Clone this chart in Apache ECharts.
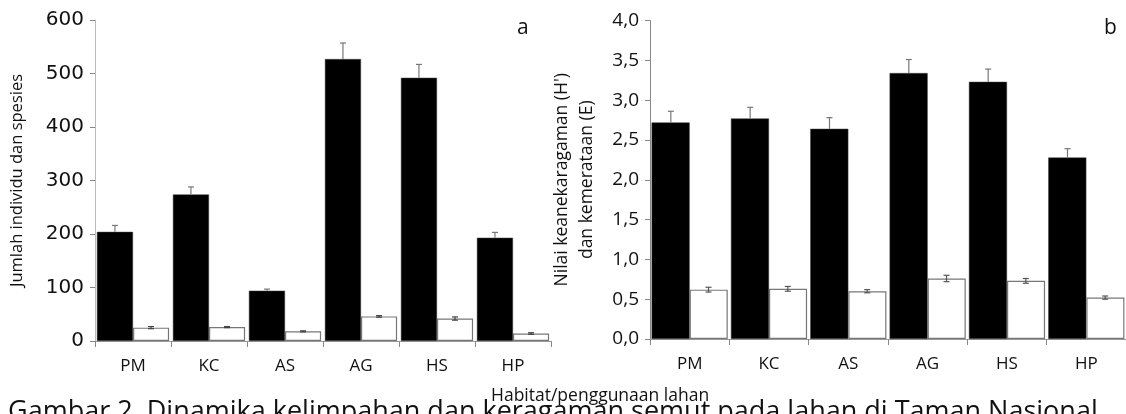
<!DOCTYPE html>
<html lang="id" style="height: 100%">
<head>
    <meta charset="UTF-8">
    <title>Jumlah individu, spesies, keanekaragaman dan kemerataan</title>
    <script src="https://cdn.jsdelivr.net/npm/echarts@6/dist/echarts.min.js"></script>
</head>
<body style="height: 100%; margin: 0; background: #fff">
    <div id="main" style="width: 1126px; height: 414px"></div>
    <script>
        // kategori habitat / penggunaan lahan
        var categories = ['PM', 'KC', 'AS', 'AG', 'HS', 'HP'];

        // panel a
        var jumlahIndividu = [204, 274, 94, 527, 492, 193];
        var jumlahIndividuErr = [12, 14, 3, 30, 25, 10];
        var jumlahSpesies = [25, 26, 18, 46, 42, 14];
        var jumlahSpesiesErr = [2, 1, 1, 1.5, 3, 1.5];
        var ticksA = [0, 100, 200, 300, 400, 500, 600];

        // panel b
        var keanekaragaman = [2.72, 2.77, 2.64, 3.34, 3.23, 2.28];
        var keanekaragamanErr = [0.14, 0.14, 0.14, 0.17, 0.16, 0.11];
        var kemerataan = [0.62, 0.63, 0.60, 0.76, 0.73, 0.52];
        var kemerataanErr = [0.03, 0.03, 0.02, 0.04, 0.03, 0.02];
        var ticksB = ['0,0', '0,5', '1,0', '1,5', '2,0', '2,5', '3,0', '3,5', '4,0'];

        var myChart = echarts.init(document.getElementById('main'));

        // error bar: garis ke atas (bar hitam) atau dua arah (bar putih)
        function errBar(side, both, color) {
            return function (params, api) {
                var i = api.value(0), v = api.value(1), e = api.value(2);
                var c = api.coord([i, v]);
                var top = api.coord([i, v + e]);
                var bot = api.coord([i, v - e]);
                var w = api.size([1, 0])[0];
                var x = c[0] + side * w * 0.2375;
                var y0 = both ? bot[1] : c[1];
                var st = { stroke: color, lineWidth: 1.2 };
                var kids = [
                    { type: 'line', shape: { x1: x, y1: y0, x2: x, y2: top[1] }, style: st },
                    { type: 'line', shape: { x1: x - 3, y1: top[1], x2: x + 3, y2: top[1] }, style: st }
                ];
                if (both) {
                    kids.push({ type: 'line', shape: { x1: x - 3, y1: bot[1], x2: x + 3, y2: bot[1] }, style: st });
                }
                return { type: 'group', children: kids };
            };
        }

        function errData(vals, errs) {
            return vals.map(function (v, i) { return [i, v, errs[i]]; });
        }

        var catAxis = function (gi) {
            return {
                type: 'category',
                gridIndex: gi,
                data: categories,
                axisLine: { lineStyle: { color: '#999', width: 1 } },
                axisTick: { show: true, length: 6, lineStyle: { color: '#888' } },
                axisLabel: { color: '#111', fontSize: 17, fontFamily: 'Open Sans', margin: 17 }
            };
        };

        var option = {
            animation: false,
            grid: [
                { left: 95, top: 20, width: 456, height: 321 },
                { left: 650, top: 20.5, width: 482, height: 318.5 }
            ],
            xAxis: [catAxis(0), catAxis(1)],
            yAxis: [
                {
                    type: 'value', gridIndex: 0, min: 0, max: 600, interval: 100,
                    name: 'Jumlah individu dan spesies',
                    nameLocation: 'middle', nameGap: 69,
                    nameTextStyle: { fontSize: 16.5, fontFamily: 'Open Sans', color: '#111' },
                    axisLine: { show: true, lineStyle: { color: '#bbb' } },
                    axisTick: { show: true, length: 5, lineStyle: { color: '#888' } },
                    splitLine: { show: false },
                    axisLabel: {
                        color: '#111', fontSize: 20, fontFamily: 'DejaVu Sans', margin: 11,
                        formatter: function (v) { return ticksA[Math.round(v / 100)]; }
                    }
                },
                {
                    type: 'value', gridIndex: 1, min: 0, max: 4, interval: 0.5,
                    name: "Nilai keanekaragaman (H')\ndan kemerataan (E)",
                    nameLocation: 'middle', nameGap: 50,
                    nameTextStyle: { fontSize: 17.5, fontFamily: 'Open Sans', color: '#111', lineHeight: 25, align: 'center' },
                    axisLine: { show: true, lineStyle: { color: '#888' } },
                    axisTick: { show: true, length: 5, lineStyle: { color: '#888' } },
                    splitLine: { show: false },
                    axisLabel: {
                        color: '#111', fontSize: 19, fontFamily: 'Open Sans', margin: 11,
                        formatter: function (v) { return ticksB[Math.round(v * 2)]; }
                    }
                }
            ],
            graphic: [
                { type: 'text', x: 8, y: 399, style: { text: 'Gambar 2. Dinamika kelimpahan dan keragaman semut pada lahan di Taman Nasional', fontSize: 27, fontFamily: 'Open Sans', fill: '#111', verticalAlign: 'top' } },
                { type: 'text', left: 517, top: 18, style: { text: 'a', fontSize: 21, fontFamily: 'Open Sans', fill: '#111' } },
                { type: 'text', left: 1104, top: 18, style: { text: 'b', fontSize: 21, fontFamily: 'Open Sans', fill: '#111' } },
                { type: 'text', left: 491, top: 387, style: { text: 'Habitat/penggunaan lahan', fontSize: 17.5, fontFamily: 'Open Sans', fill: '#111' } }
            ],
            series: [
                {
                    type: 'bar', xAxisIndex: 0, yAxisIndex: 0, data: jumlahIndividu,
                    barGap: '0%', barCategoryGap: '5%',
                    itemStyle: { color: '#000', borderColor: '#444', borderWidth: 0.5 }
                },
                {
                    type: 'bar', xAxisIndex: 0, yAxisIndex: 0, data: jumlahSpesies,
                    barGap: '0%', barCategoryGap: '5%',
                    itemStyle: { color: '#fff', borderColor: '#777', borderWidth: 1.2 }
                },
                {
                    type: 'bar', xAxisIndex: 1, yAxisIndex: 1, data: keanekaragaman,
                    barGap: '0%', barCategoryGap: '4%',
                    itemStyle: { color: '#000', borderColor: '#444', borderWidth: 0.5 }
                },
                {
                    type: 'bar', xAxisIndex: 1, yAxisIndex: 1, data: kemerataan,
                    barGap: '0%', barCategoryGap: '4%',
                    itemStyle: { color: '#fff', borderColor: '#777', borderWidth: 1.2 }
                },
                {
                    type: 'custom', xAxisIndex: 0, yAxisIndex: 0, z: 5,
                    renderItem: errBar(-1, false, '#777'), data: errData(jumlahIndividu, jumlahIndividuErr)
                },
                {
                    type: 'custom', xAxisIndex: 0, yAxisIndex: 0, z: 5,
                    renderItem: errBar(1, true, '#444'), data: errData(jumlahSpesies, jumlahSpesiesErr)
                },
                {
                    type: 'custom', xAxisIndex: 1, yAxisIndex: 1, z: 5,
                    renderItem: errBar(-1, false, '#777'), data: errData(keanekaragaman, keanekaragamanErr)
                },
                {
                    type: 'custom', xAxisIndex: 1, yAxisIndex: 1, z: 5,
                    renderItem: errBar(1, true, '#555'), data: errData(kemerataan, kemerataanErr)
                }
            ]
        };

        myChart.setOption(option);
    </script>
</body>
</html>
